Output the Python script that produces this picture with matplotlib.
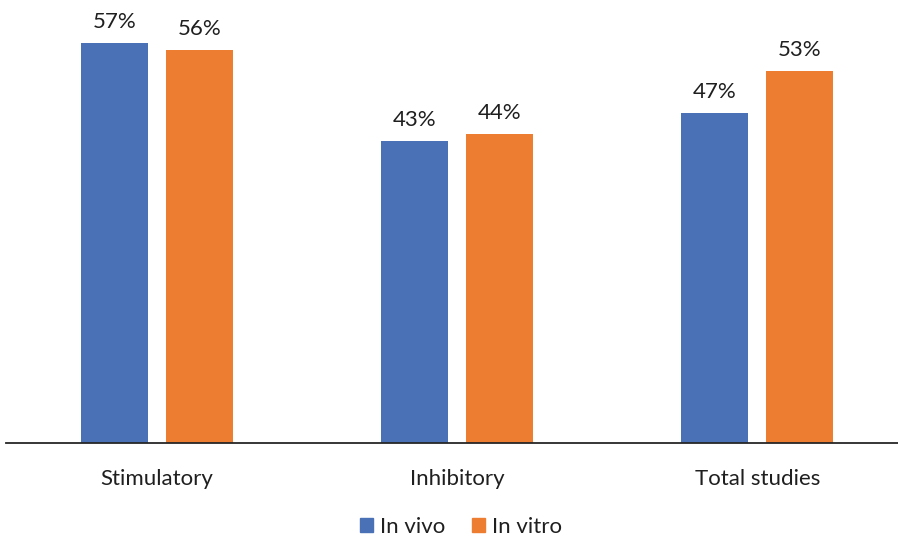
import numpy as np
import matplotlib.pyplot as plt
from matplotlib.patches import Patch

plt.rcParams['font.family'] = ['Lato', 'DejaVu Sans']

categories = ["Stimulatory", "Inhibitory", "Total studies"]
in_vivo = [57, 43, 47]
in_vitro = [56, 44, 53]

blue = "#4A71B6"
orange = "#ED7D31"
text_col = "#1f1f1f"

fig = plt.figure(figsize=(8.98, 5.40), dpi=100)
ax = fig.add_axes([6 / 898, 1 - 443 / 540, 892 / 898, 443 / 540])

x = np.arange(len(categories))
w = 0.223
off = 0.1414
b1 = ax.bar(x - off, in_vivo, w, color=blue)
b2 = ax.bar(x + off, in_vitro, w, color=orange)

for bars, vals in ((b1, in_vivo), (b2, in_vitro)):
    for b, v in zip(bars, vals):
        ax.text(b.get_x() + b.get_width() / 2, v + 1.6, f"{v}%",
                ha="center", va="bottom", fontsize=16, color=text_col)

ax.set_xlim(-0.5 - 1 / 300.5, 2 + 141 / 300.5)
ax.set_ylim(0, 443 / 7.02)
ax.set_xticks(x)
ax.set_xticklabels(categories, fontsize=16, color=text_col)
ax.tick_params(axis="x", length=0, pad=19)
ax.set_yticks([])
for s in ("top", "right", "left"):
    ax.spines[s].set_visible(False)
ax.spines["bottom"].set_color("#262626")
ax.spines["bottom"].set_linewidth(1.3)

handles = [Patch(color=blue, label="In vivo"), Patch(color=orange, label="In vitro")]
fig.legend(handles=handles, loc="center", bbox_to_anchor=(461 / 898, 1 - 527 / 540),
           ncol=2, frameon=False, fontsize=16, handlelength=0.6, handleheight=0.6,
           handletextpad=0.3, columnspacing=1.2, labelcolor=text_col)

fig.savefig("out.png", dpi=100)
